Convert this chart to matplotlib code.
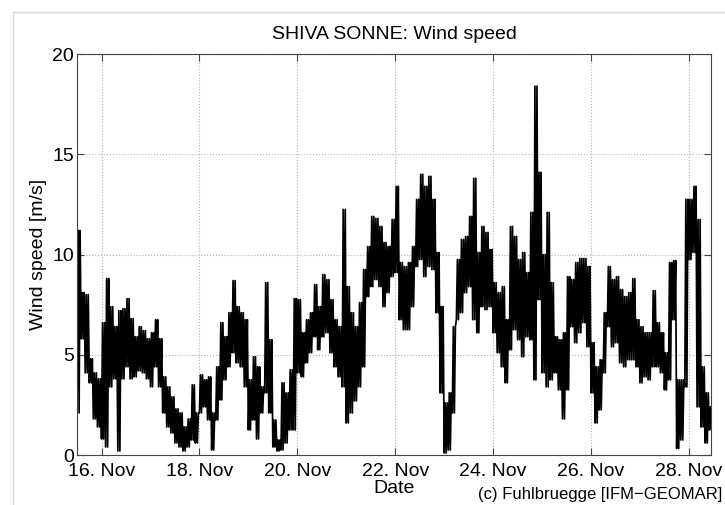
import matplotlib
matplotlib.use('Agg')
import matplotlib.pyplot as plt
import matplotlib.dates as mdates
import numpy as np
from matplotlib.patches import Rectangle

plt.rcParams['font.family'] = ['Liberation Sans', 'DejaVu Sans']

# 2-hourly lower / upper envelope of the wind speed record [m/s]
wind_lo = [2.1, 5.8, 4.1, 3.6, 1.8, 1.4, 0.8, 0.4, 3.4, 3.8,
           0.2, 3.8, 4.4, 3.8, 3.9, 4.2, 4.1, 3.8, 3.4, 4.4,
           3.4, 2.1, 1.4, 1.1, 0.6, 0.4, 0.2, 0.4,
           0.75, 0.6, 2.1, 2.4, 1.75, 0.25, 1.75, 2.75, 3.75, 4.4, 5.1, 4.6, 4.4,
           3.4, 1.25, 1.75, 0.8, 2.1, 3.1, 2.1, 0.4, 0.2, 0.25, 0.6, 1.25, 1.25,
           4.1, 3.9, 4.6, 5.1, 5.9, 5.25, 5.9, 6.1, 5.1, 4.4, 3.9, 3.4, 1.6, 2.1,
           2.7, 3.4, 4.4, 7.9, 8.4, 8.75, 8.4, 7.4, 8.1, 8.9, 9.1, 6.75, 6.25,
           6.25, 7.4, 9.4, 9.75, 8.9, 9.4, 9.25, 7.1, 3.1, 0.1, 0.25, 2.1, 6.75,
           7.1, 8.1, 8.4, 6.75, 6.1, 7.4, 7.25, 7.4, 6.1, 5.1, 4.4, 3.6, 5.25, 6.25,
           5.75, 4.9, 5.9, 5.75, 3.75, 7.75, 4.1, 3.4, 3.75, 4.1, 3.25, 1.8, 3.25,
           6.4, 5.6, 6.1, 6.6, 5.4, 3.1, 1.6, 2.25, 4.1, 6.4, 5.4, 5.6, 4.6, 4.4,
           4.75, 4.75, 4.4, 3.6, 3.9, 3.75, 4.4, 4.4, 4.1, 3.25, 3.75, 6.75, 0.33,
           0.75, 3.4, 9.75, 10.1, 2.4, 1.4, 0.6, 1.25]
wind_hi = [11.2, 8.1, 8.0, 4.8, 4.1, 3.8, 6.6, 8.8, 7.4, 6.4,
           7.2, 7.3, 7.8, 6.8, 5.9, 6.4, 6.2, 5.8, 6.1, 6.75,
           5.8, 3.9, 3.4, 2.9, 2.3, 2.1, 1.4, 1.8,
           3.5, 2.1, 4.0, 3.75, 3.9, 2.1, 4.4, 6.6, 5.9, 7.1, 8.7, 7.4, 7.1,
           6.75, 3.75, 4.9, 4.4, 3.4, 8.6, 5.75, 1.75, 0.75, 3.6, 3.1, 4.25, 7.8,
           7.75, 6.1, 6.75, 7.1, 8.5, 7.4, 9.0, 8.75, 7.75, 6.75, 6.4, 12.25, 8.4, 7.1,
           6.4, 7.6, 9.25, 10.4, 11.9, 11.8, 11.4, 10.6, 10.4, 11.75, 13.4, 9.6, 9.4,
           9.6, 10.4, 12.75, 14.0, 13.4, 13.9, 12.75, 10.1, 7.4, 2.6, 3.1, 6.4, 9.75,
           10.75, 10.9, 11.9, 13.8, 10.1, 11.4, 11.1, 10.25, 8.6, 8.1, 8.4, 6.75, 11.4, 10.9,
           9.75, 10.1, 9.1, 12.1, 18.4, 14.1, 10.0, 12.1, 8.6, 5.9, 5.75, 6.1, 8.9,
           8.75, 9.6, 9.8, 9.8, 9.4, 5.6, 4.4, 4.75, 7.1, 9.4, 8.75, 8.9, 8.25, 7.9,
           8.1, 8.8, 6.75, 6.4, 6.1, 6.1, 8.2, 6.6, 6.1, 5.1, 9.6, 9.7, 3.75,
           3.75, 12.75, 12.75, 13.4, 11.75, 4.4, 3.1, 2.4]

# 30-min series: each 2 h block swings twice between its low and high value
wind = np.repeat(np.column_stack([wind_lo, wind_hi]), 2, axis=0).ravel()
t = np.datetime64('2011-11-15T12:00') + np.arange(len(wind)) * np.timedelta64(30, 'm')

fig = plt.figure(figsize=(7.25, 5.05), dpi=100)
ax = fig.add_axes([0.1066, 0.099, 0.8741, 0.794])

# duenner grauer Rahmen wie im Screenshot
fig.patches.append(Rectangle((13 / 725, -0.1), 1.2, 1.1 - 12 / 505, transform=fig.transFigure,
                             fill=False, edgecolor='#d8d8d8', linewidth=1.0))

ax.plot(t, wind, color='k', linewidth=1.25)

ax.set_xlim(np.datetime64('2011-11-15T12:07'), np.datetime64('2011-11-28T10:50'))
ax.set_ylim(0, 20)
ax.set_yticks([0, 5, 10, 15, 20])
ax.xaxis.set_major_locator(mdates.DayLocator(bymonthday=[16, 18, 20, 22, 24, 26, 28]))
ax.xaxis.set_major_formatter(mdates.DateFormatter('%d. %b'))

ax.grid(True, linestyle=':', color='#b0b0b0', linewidth=0.8)
ax.tick_params(direction='in', top=True, right=True, length=5, width=0.8,
               labelsize=14, color='#444444')
ax.tick_params(axis='x', pad=5.5)
ax.tick_params(axis='y', pad=2.5)
for s in ax.spines.values():
    s.set_color('#444444')
    s.set_linewidth(0.8)

ax.set_title('SHIVA SONNE: Wind speed', fontsize=14, pad=11)
ax.set_xlabel('Date', fontsize=14, labelpad=0.5)
ax.set_ylabel('Wind speed [m/s]', fontsize=14, labelpad=4)
fig.text(0.996, 0.006, '(c) Fuhlbruegge [IFM\u2212GEOMAR]', ha='right', va='bottom', fontsize=12)

plt.savefig('out.png', dpi=100)
